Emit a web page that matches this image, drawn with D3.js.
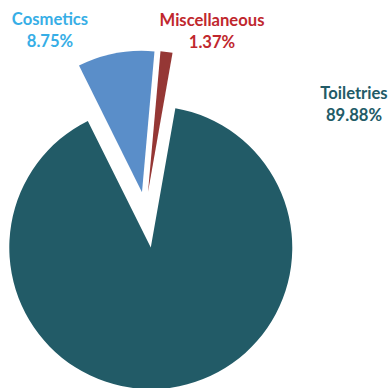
<!DOCTYPE html>
<html>
<head>
<meta charset="utf-8">
<script src="https://cdn.jsdelivr.net/npm/d3@7"></script>
<style>
  body { margin: 0; background: #fff; }
  text { font-family: Lato, "Open Sans", sans-serif; font-weight: bold; }
</style>
</head>
<body>
<div id="chart"></div>
<script>
// data
var categories = ["Toiletries", "Cosmetics", "Miscellaneous"];
var values = [89.88, 8.75, 1.37];
var labels = ["89.88%", "8.75%", "1.37%"];

// styles
var sliceColors = ["#225b67", "#5a8ec9", "#953735"];
var labelColors = ["#225b67", "#37aee6", "#c0272d"];
var explode = [37, 19, 19];

var width = 391, height = 388;
var cx = 145.5, cy = 211, radius = 141.5;

var svg = d3.select("#chart")
  .append("svg")
  .attr("width", width)
  .attr("height", height);

var g = svg.append("g")
  .attr("transform", "translate(" + cx + "," + cy + ")");

var start = 10 * Math.PI / 180;
var pie = d3.pie()
  .sort(null)
  .startAngle(start)
  .endAngle(start + 2 * Math.PI)
  .value(d => d);

var arc = d3.arc().innerRadius(0).outerRadius(radius);

var arcs = pie(values);

g.selectAll("path")
  .data(arcs)
  .enter()
  .append("path")
  .attr("d", arc)
  .attr("fill", (d, i) => sliceColors[i])
  .attr("transform", function(d, i) {
    var mid = (d.startAngle + d.endAngle) / 2;
    return "translate(" + (explode[i] * Math.sin(mid)) + "," + (-explode[i] * Math.cos(mid)) + ")";
  });

// label positions (placed like the original data labels)
var labelPos = [[354, 99], [50, 25], [212, 26]];

var lab = svg.selectAll(".label")
  .data(categories)
  .enter()
  .append("text")
  .attr("class", "label")
  .attr("text-anchor", "middle")
  .attr("fill", (d, i) => labelColors[i])
  .style("font-size", "16.6px");

lab.append("tspan")
  .attr("x", (d, i) => labelPos[i][0])
  .attr("y", (d, i) => labelPos[i][1])
  .text(d => d);

lab.append("tspan")
  .attr("x", (d, i) => labelPos[i][0])
  .attr("y", (d, i) => labelPos[i][1] + 22)
  .text((d, i) => labels[i]);
</script>
</body>
</html>
